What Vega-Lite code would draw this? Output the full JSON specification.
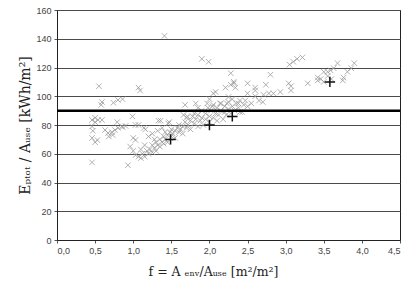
{
  "$schema": "https://vega.github.io/schema/vega-lite/v6.json",
  "width": 343,
  "height": 230,
  "autosize": {"type": "none"},
  "padding": {"left": 57, "top": 10, "right": 18, "bottom": 47},
  "background": "white",
  "config": {
    "view": {"stroke": "#222", "strokeWidth": 1},
    "axis": {"labelFont": "Liberation Sans", "labelFontSize": 9, "labelColor": "#444", "titleFont": "DejaVu Serif", "titleFontWeight": "normal", "titleColor": "#222", "titleFontSize": 12, "labelOverlap": false}
  },
  "datasets": {
    "measured": [
      {"f":0.46,"E":54},{"f":0.46,"E":71},{"f":0.53,"E":69.5},{"f":0.5,"E":68},{"f":0.46,"E":79},{"f":0.47,"E":76},
      {"f":0.46,"E":83.5},{"f":0.5,"E":82},{"f":0.54,"E":83.5},{"f":0.59,"E":83.5},{"f":0.5,"E":85},{"f":0.55,"E":107},
      {"f":0.59,"E":96},{"f":0.58,"E":94},{"f":0.74,"E":95.5},{"f":0.8,"E":97.4},{"f":0.86,"E":98},{"f":0.79,"E":82},
      {"f":0.63,"E":76.5},{"f":0.67,"E":74.4},{"f":0.72,"E":75},{"f":0.76,"E":76.5},{"f":0.8,"E":78},{"f":0.86,"E":78.6},
      {"f":0.9,"E":79.3},{"f":0.68,"E":72},{"f":0.73,"E":73},{"f":0.93,"E":52},{"f":0.96,"E":65},{"f":1.0,"E":62},
      {"f":1.03,"E":59},{"f":1.07,"E":58},{"f":0.99,"E":86},{"f":1.03,"E":80},{"f":1.07,"E":80},{"f":1.07,"E":106},
      {"f":1.09,"E":104},{"f":1.0,"E":71},{"f":1.03,"E":69.6},{"f":1.14,"E":78},{"f":1.16,"E":77},{"f":1.36,"E":83},
      {"f":1.46,"E":81},{"f":0.85,"E":79},{"f":1.33,"E":83},{"f":1.47,"E":82},
      {"f":1.1,"E":57},{"f":1.12,"E":60},{"f":1.15,"E":58},{"f":1.18,"E":62},{"f":1.2,"E":60},{"f":1.22,"E":63},
      {"f":1.25,"E":61},{"f":1.25,"E":66},{"f":1.28,"E":64},{"f":1.3,"E":62},{"f":1.3,"E":68},{"f":1.32,"E":66},
      {"f":1.35,"E":65},{"f":1.35,"E":70},{"f":1.38,"E":68},{"f":1.4,"E":67},{"f":1.4,"E":72},{"f":1.42,"E":70},
      {"f":1.45,"E":73},{"f":1.45,"E":68},{"f":1.48,"E":75},{"f":1.5,"E":72},{"f":1.5,"E":77},{"f":1.52,"E":74},
      {"f":1.55,"E":76},{"f":1.55,"E":71},{"f":1.58,"E":78},{"f":1.6,"E":75},{"f":1.6,"E":80},{"f":1.62,"E":77},
      {"f":1.65,"E":79},{"f":1.65,"E":74},{"f":1.68,"E":82},{"f":1.7,"E":78},{"f":1.7,"E":85},{"f":1.72,"E":80},
      {"f":1.75,"E":83},{"f":1.75,"E":77},{"f":1.78,"E":86},{"f":1.8,"E":81},{"f":1.8,"E":88},{"f":1.82,"E":84},
      {"f":1.85,"E":79},{"f":1.85,"E":87},{"f":1.88,"E":83},{"f":1.9,"E":90},{"f":1.9,"E":85},{"f":1.92,"E":80},
      {"f":1.95,"E":88},{"f":1.95,"E":84},{"f":1.98,"E":92},{"f":2.0,"E":86},{"f":2.0,"E":82},{"f":2.02,"E":90},
      {"f":2.05,"E":85},{"f":2.05,"E":94},{"f":2.08,"E":88},{"f":2.1,"E":83},{"f":2.1,"E":92},{"f":2.12,"E":87},
      {"f":2.15,"E":90},{"f":2.15,"E":95},{"f":2.18,"E":84},{"f":2.2,"E":89},{"f":2.2,"E":93},{"f":2.22,"E":87},
      {"f":2.25,"E":91},{"f":2.25,"E":96},{"f":2.28,"E":88},{"f":2.3,"E":93},{"f":2.3,"E":98},{"f":2.33,"E":90},
      {"f":2.35,"E":95},{"f":2.38,"E":92},{"f":2.4,"E":97},{"f":2.4,"E":89},
      {"f":1.2,"E":72},{"f":1.25,"E":74},{"f":1.28,"E":70},{"f":1.32,"E":76},{"f":1.38,"E":78},{"f":1.42,"E":75},
      {"f":1.15,"E":66},{"f":1.1,"E":63},{"f":1.41,"E":142},
      {"f":1.66,"E":87},{"f":1.68,"E":94},{"f":1.71,"E":86},{"f":1.82,"E":95},{"f":1.97,"E":95},{"f":2.04,"E":93},
      {"f":2.14,"E":95},{"f":2.23,"E":95},{"f":2.38,"E":95},{"f":1.85,"E":92},{"f":2.0,"E":98},{"f":2.08,"E":103},
      {"f":2.05,"E":102},{"f":2.28,"E":108},{"f":2.32,"E":110},{"f":2.21,"E":106},{"f":2.34,"E":106},{"f":2.25,"E":99.5},
      {"f":2.28,"E":116},{"f":2.32,"E":109},{"f":1.9,"E":126},{"f":1.99,"E":124},
      {"f":2.43,"E":89},{"f":2.45,"E":94},{"f":2.47,"E":97},{"f":2.5,"E":93},{"f":2.5,"E":102},{"f":2.6,"E":104},
      {"f":2.65,"E":97},{"f":2.7,"E":96},{"f":2.71,"E":101},{"f":2.78,"E":102},{"f":2.84,"E":102},{"f":2.93,"E":103},
      {"f":2.74,"E":108},{"f":2.8,"E":115},{"f":2.5,"E":109},{"f":2.6,"E":106},{"f":2.55,"E":95},{"f":2.6,"E":100},
      {"f":3.04,"E":109},{"f":3.07,"E":107},{"f":3.07,"E":104},{"f":3.05,"E":122},{"f":3.1,"E":124},{"f":3.15,"E":126},
      {"f":3.22,"E":127},{"f":3.29,"E":109},{"f":3.42,"E":111},{"f":3.42,"E":113},{"f":3.46,"E":112},{"f":3.5,"E":117},
      {"f":3.55,"E":117},{"f":3.59,"E":118},{"f":3.63,"E":119.5},{"f":3.5,"E":110},{"f":3.68,"E":123},{"f":3.75,"E":111},
      {"f":3.76,"E":113},{"f":3.81,"E":117},{"f":3.86,"E":119.5},{"f":3.9,"E":123},{"f":3.55,"E":114},{"f":3.6,"E":112}
    ],
    "reference": [
      {"f":1.49,"E":70},{"f":2.0,"E":80},{"f":2.3,"E":86},{"f":3.58,"E":110}
    ],
    "limit": [{"E":90}]
  },
  "layer": [
    {
      "data": {"name": "measured"},
      "mark": {"type": "point", "shape": "M-1,-1L1,1M-1,1L1,-1", "filled": false, "stroke": "#959595", "strokeWidth": 0.75, "size": 30, "opacity": 1},
      "encoding": {
        "x": {"field": "f", "type": "quantitative",
          "scale": {"domain": [0, 4.5], "nice": false, "zero": true},
          "axis": {"values": [0,0.5,1,1.5,2,2.5,3,3.5,4,4.5], "labelExpr": "replace(format(datum.value, '.1f'), '.', ',')",
            "grid": false, "domainColor": "#222", "tickColor": "#555", "tickSize": 3, "labelPadding": 3,
            "title": "f = A ₑₙᵥ/Aᵤₛₑ   [m²/m²]", "titleFontSize": 12.5, "titleX": 156, "titleY": 35, "titleBaseline": "alphabetic", "titleFont": "DejaVu Serif"}},
        "y": {"field": "E", "type": "quantitative",
          "scale": {"domain": [0, 160], "nice": false},
          "axis": {"values": [0,20,40,60,80,100,120,140,160], "grid": true, "gridColor": "#4a4a4a", "gridWidth": 1,
            "domainColor": "#222", "tickColor": "#555", "tickSize": 3, "labelPadding": 3,
            "title": "Eₚₜₒₜ / Aᵤₛₑ   [kWh/m²]", "titleFontSize": 14, "titleAngle": 270, "titleX": -32, "titleY": 115, "titleBaseline": "middle", "titleAlign": "center"}}
      }
    },
    {
      "data": {"name": "reference"},
      "mark": {"type": "point", "shape": "M-1,0L1,0M0,-1L0,1", "filled": false, "stroke": "#111", "strokeWidth": 1.5, "size": 110, "opacity": 1},
      "encoding": {
        "x": {"field": "f", "type": "quantitative",
          "axis": {"values": [0,0.5,1,1.5,2,2.5,3,3.5,4,4.5], "labelExpr": "replace(format(datum.value, '.1f'), '.', ',')",
            "grid": false, "domainColor": "#222", "tickColor": "#555", "tickSize": 3, "labelPadding": 3,
            "title": "f = A ₑₙᵥ/Aᵤₛₑ   [m²/m²]", "titleFontSize": 12.5, "titleX": 156, "titleY": 35, "titleBaseline": "alphabetic", "titleFont": "DejaVu Serif"}},
        "y": {"field": "E", "type": "quantitative",
          "axis": {"values": [0,20,40,60,80,100,120,140,160], "grid": true, "gridColor": "#4a4a4a", "gridWidth": 1,
            "domainColor": "#222", "tickColor": "#555", "tickSize": 3, "labelPadding": 3,
            "title": "Eₚₜₒₜ / Aᵤₛₑ   [kWh/m²]", "titleFontSize": 14, "titleAngle": 270, "titleX": -32, "titleY": 115, "titleBaseline": "middle", "titleAlign": "center"}}
      }
    },
    {
      "data": {"name": "limit"},
      "mark": {"type": "rule", "stroke": "#000", "strokeWidth": 2.5},
      "encoding": {
        "y": {"field": "E", "type": "quantitative",
          "axis": {"values": [0,20,40,60,80,100,120,140,160], "grid": true, "gridColor": "#4a4a4a", "gridWidth": 1,
            "domainColor": "#222", "tickColor": "#555", "tickSize": 3, "labelPadding": 3,
            "title": "Eₚₜₒₜ / Aᵤₛₑ   [kWh/m²]", "titleFontSize": 14, "titleAngle": 270, "titleX": -32, "titleY": 115, "titleBaseline": "middle", "titleAlign": "center"}}
      }
    }
  ]
}
